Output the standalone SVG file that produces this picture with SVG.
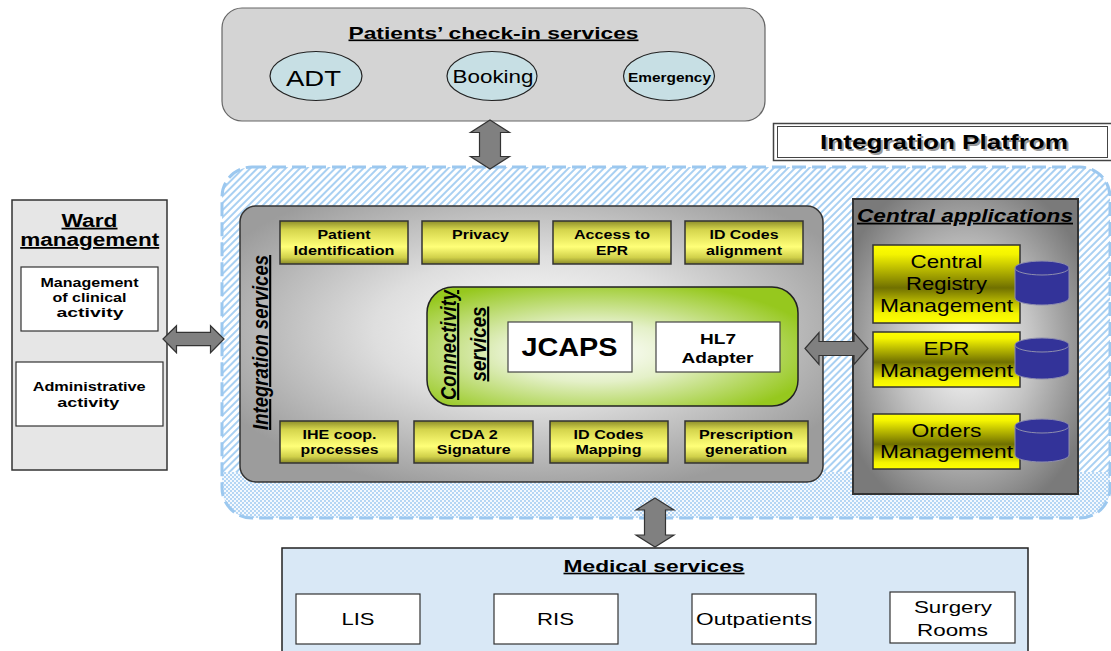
<svg xmlns="http://www.w3.org/2000/svg" width="1111" height="651" viewBox="0 0 1111 651">
<style>
text{font-family:"Liberation Sans",Arial,Helvetica,sans-serif;fill:#000;text-anchor:middle}
.b{font-weight:bold}
.i{font-style:italic}
.u{text-decoration:underline}
.arrow{fill:#808080;stroke:#333;stroke-width:1.2}
.ybox{fill:url(#gy);stroke:#333;stroke-width:1.5}
.cbox{fill:url(#gy2);stroke:#333;stroke-width:1.5}
.wbox{fill:#fff;stroke:#333;stroke-width:1.2}
.ell{fill:#c7dfe4;stroke:#222;stroke-width:1.2}
.cyl{fill:#333399;stroke:#8e8eae;stroke-width:1}
.yt{font-size:13.5px;font-weight:bold}
.ct{font-size:19px}
.mt{font-size:17px}
</style>
<defs>
<pattern id="hatch" patternUnits="userSpaceOnUse" width="5" height="5" patternTransform="rotate(45)">
<rect width="5" height="5" fill="#fff"/><rect width="2" height="5" fill="#a9d0f2"/>
</pattern>
<pattern id="dots" patternUnits="userSpaceOnUse" width="4" height="4">
<rect width="4" height="4" fill="#f4f9fe"/><rect width="2" height="2" fill="#b5d6f4"/><rect x="2" y="2" width="2" height="2" fill="#b5d6f4"/>
</pattern>
<clipPath id="platClip"><rect x="222" y="167" width="888" height="351" rx="30"/></clipPath>
<radialGradient id="gInt" cx="0.5" cy="0.45" r="0.6">
<stop offset="0" stop-color="#ffffff"/><stop offset="0.45" stop-color="#dedede"/><stop offset="1" stop-color="#9c9c9c"/>
</radialGradient>
<radialGradient id="gGreen" cx="0.45" cy="0.55" r="0.62">
<stop offset="0" stop-color="#ffffff"/><stop offset="0.4" stop-color="#e4f0c8"/><stop offset="1" stop-color="#96c81e"/>
</radialGradient>
<radialGradient id="gCen" cx="0.5" cy="0.5" r="0.6">
<stop offset="0" stop-color="#ffffff"/><stop offset="0.5" stop-color="#c4c4c4"/><stop offset="1" stop-color="#7a7a7a"/>
</radialGradient>
<linearGradient id="gy" x1="0" y1="0" x2="0" y2="1">
<stop offset="0" stop-color="#8f8f2a"/><stop offset="0.2" stop-color="#d4d44c"/><stop offset="0.6" stop-color="#ffff78"/><stop offset="0.85" stop-color="#d0d04a"/><stop offset="1" stop-color="#8a8a28"/>
</linearGradient>
<linearGradient id="gy2" x1="0" y1="0" x2="0" y2="1">
<stop offset="0" stop-color="#ffff00"/><stop offset="0.12" stop-color="#f4f400"/><stop offset="0.55" stop-color="#707000"/><stop offset="0.88" stop-color="#f4f400"/><stop offset="1" stop-color="#ffff00"/>
</linearGradient>
</defs>

<!-- Integration platform background -->
<g id="platform">
<rect x="222" y="167" width="888" height="351" rx="30" fill="url(#hatch)"/>
<rect x="200" y="472" width="920" height="60" fill="url(#dots)" clip-path="url(#platClip)"/>
<rect x="222" y="167" width="888" height="351" rx="30" fill="none" stroke="#9cc8ef" stroke-width="3" stroke-dasharray="14 6"/>
</g>

<g id="platform-label">
<rect x="773.5" y="123.5" width="345" height="37" fill="#fff" stroke="#444" stroke-width="1.5"/>
<rect x="777.5" y="126.5" width="330" height="31" fill="none" stroke="#444" stroke-width="1"/>
<text x="946" y="151" class="b" font-size="21" textLength="248" lengthAdjust="spacingAndGlyphs" style="fill:#9a9a9a">Integration Platfrom</text>
<text x="944" y="149" class="b" font-size="21" textLength="248" lengthAdjust="spacingAndGlyphs">Integration Platfrom</text>
</g>

<g id="checkin">
<rect x="222" y="8" width="543" height="113" rx="20" fill="#d4d4d4" stroke="#666" stroke-width="1.2"/>
<text x="493.5" y="38.5" class="b u" font-size="16.5" textLength="290" lengthAdjust="spacingAndGlyphs">Patients’ check-in services</text>
<g id="adt"><ellipse cx="316" cy="76" rx="46" ry="24.5" class="ell"/>
<text x="313.5" y="86" font-size="22.5" textLength="55" lengthAdjust="spacingAndGlyphs">ADT</text></g>
<g id="booking"><ellipse cx="492" cy="76" rx="45" ry="24.5" class="ell"/>
<text x="493" y="83.3" font-size="17.5" textLength="81" lengthAdjust="spacingAndGlyphs">Booking</text></g>
<g id="emergency"><ellipse cx="669" cy="76" rx="45.5" ry="24.5" class="ell"/>
<text x="669.5" y="81.5" class="b" font-size="12.6" textLength="83" lengthAdjust="spacingAndGlyphs">Emergency</text></g>
</g>

<g id="ward">
<rect x="12" y="200" width="155" height="270" fill="#e6e6e6" stroke="#333" stroke-width="1.5"/>
<text x="89.5" y="226.7" class="b u" font-size="18" textLength="56" lengthAdjust="spacingAndGlyphs">Ward</text>
<text x="89.7" y="246" class="b u" font-size="18" textLength="139" lengthAdjust="spacingAndGlyphs">management</text>
<g id="clinical">
<rect x="21" y="267" width="137" height="64" class="wbox"/>
<text x="89.5" y="286.7" class="b" font-size="13" textLength="98" lengthAdjust="spacingAndGlyphs">Management</text>
<text x="89.5" y="301.7" class="b" font-size="13" textLength="74" lengthAdjust="spacingAndGlyphs">of clinical</text>
<text x="90" y="316.5" class="b" font-size="13" textLength="67" lengthAdjust="spacingAndGlyphs">activity</text>
</g>
<g id="administrative">
<rect x="16" y="362" width="147" height="64" class="wbox"/>
<text x="89.2" y="391" class="b" font-size="13" textLength="113" lengthAdjust="spacingAndGlyphs">Administrative</text>
<text x="88.3" y="406.5" class="b" font-size="13" textLength="62" lengthAdjust="spacingAndGlyphs">activity</text>
</g>
</g>

<g id="integration">
<rect x="240" y="206" width="583" height="276" rx="16" fill="url(#gInt)" stroke="#333" stroke-width="1.5"/>
<text transform="translate(268,342.5) scale(1.25,1) rotate(-90)" class="b i u" font-size="17" textLength="175" lengthAdjust="spacingAndGlyphs">Integration services</text>
<g id="patient-id"><rect x="280" y="221" width="128" height="43" class="ybox"/>
<text x="344" y="239" class="yt" textLength="53" lengthAdjust="spacingAndGlyphs">Patient</text>
<text x="344" y="254.5" class="yt" textLength="101" lengthAdjust="spacingAndGlyphs">Identification</text></g>
<g id="privacy"><rect x="422" y="221" width="117" height="43" class="ybox"/>
<text x="480.5" y="239" class="yt" textLength="57" lengthAdjust="spacingAndGlyphs">Privacy</text></g>
<g id="access-epr"><rect x="553" y="221" width="118" height="43" class="ybox"/>
<text x="612" y="239" class="yt" textLength="76" lengthAdjust="spacingAndGlyphs">Access to</text>
<text x="612" y="254.5" class="yt" textLength="32" lengthAdjust="spacingAndGlyphs">EPR</text></g>
<g id="id-align"><rect x="685" y="221" width="118" height="43" class="ybox"/>
<text x="744" y="239" class="yt" textLength="69" lengthAdjust="spacingAndGlyphs">ID Codes</text>
<text x="744" y="254.5" class="yt" textLength="76" lengthAdjust="spacingAndGlyphs">alignment</text></g>
<g id="ihe"><rect x="280" y="421" width="118" height="42" class="ybox"/>
<text x="339.5" y="439.3" class="yt" textLength="74" lengthAdjust="spacingAndGlyphs">IHE coop.</text>
<text x="339.5" y="454.3" class="yt" textLength="78" lengthAdjust="spacingAndGlyphs">processes</text></g>
<g id="cda"><rect x="414" y="421" width="119" height="42" class="ybox"/>
<text x="473.8" y="439.3" class="yt" textLength="48" lengthAdjust="spacingAndGlyphs">CDA 2</text>
<text x="473.8" y="454.3" class="yt" textLength="74" lengthAdjust="spacingAndGlyphs">Signature</text></g>
<g id="id-map"><rect x="550" y="421" width="118" height="42" class="ybox"/>
<text x="608.5" y="439.3" class="yt" textLength="70" lengthAdjust="spacingAndGlyphs">ID Codes</text>
<text x="608.5" y="454.3" class="yt" textLength="66" lengthAdjust="spacingAndGlyphs">Mapping</text></g>
<g id="prescription"><rect x="685" y="421" width="123" height="42" class="ybox"/>
<text x="746" y="439.3" class="yt" textLength="94" lengthAdjust="spacingAndGlyphs">Prescription</text>
<text x="746" y="454.3" class="yt" textLength="82" lengthAdjust="spacingAndGlyphs">generation</text></g>
</g>

<g id="connectivity">
<rect x="427" y="287" width="371" height="119" rx="26" fill="url(#gGreen)" stroke="#222" stroke-width="1.5"/>
<text transform="translate(456,345) scale(1.25,1) rotate(-90)" class="b i u" font-size="17" textLength="110" lengthAdjust="spacingAndGlyphs">Connectivity</text>
<text transform="translate(486,344) scale(1.25,1) rotate(-90)" class="b i u" font-size="17" textLength="75" lengthAdjust="spacingAndGlyphs">services</text>
<g id="jcaps"><rect x="508" y="322" width="124" height="50" fill="#fff" stroke="#444" stroke-width="1.2"/>
<text x="569.5" y="356" class="b" font-size="25" textLength="96" lengthAdjust="spacingAndGlyphs">JCAPS</text></g>
<g id="hl7"><rect x="656" y="322" width="124" height="50" fill="#fff" stroke="#444" stroke-width="1.2"/>
<text x="718" y="343.5" class="b" font-size="15.5" textLength="36" lengthAdjust="spacingAndGlyphs">HL7</text>
<text x="717.5" y="363" class="b" font-size="15.5" textLength="72" lengthAdjust="spacingAndGlyphs">Adapter</text></g>
</g>

<g id="central">
<rect x="853" y="199" width="225" height="295" fill="url(#gCen)" stroke="#333" stroke-width="2"/>
<text x="965" y="221.7" class="b i u" font-size="18" textLength="216" lengthAdjust="spacingAndGlyphs">Central applications</text>
<g id="central-registry"><rect x="873" y="245" width="147" height="78" class="cbox"/>
<text x="946.5" y="268" class="ct" textLength="72" lengthAdjust="spacingAndGlyphs">Central</text>
<text x="946.5" y="290" class="ct" textLength="81" lengthAdjust="spacingAndGlyphs">Registry</text>
<text x="946.5" y="312" class="ct" textLength="133" lengthAdjust="spacingAndGlyphs">Management</text>
<path d="M1015,268 L1015,298 A27,7 0 0 0 1069,298 L1069,268 Z" class="cyl"/>
<ellipse cx="1042" cy="268" rx="27" ry="7" class="cyl"/></g>
<g id="epr"><rect x="873" y="332" width="147" height="55" class="cbox"/>
<text x="946.5" y="355" class="ct" textLength="46" lengthAdjust="spacingAndGlyphs">EPR</text>
<text x="946.5" y="377" class="ct" textLength="133" lengthAdjust="spacingAndGlyphs">Management</text>
<path d="M1015,345 L1015,372 A27,7 0 0 0 1069,372 L1069,345 Z" class="cyl"/>
<ellipse cx="1042" cy="345" rx="27" ry="7" class="cyl"/></g>
<g id="orders"><rect x="873" y="414" width="147" height="55" class="cbox"/>
<text x="946.5" y="437" class="ct" textLength="70" lengthAdjust="spacingAndGlyphs">Orders</text>
<text x="946.5" y="458" class="ct" textLength="133" lengthAdjust="spacingAndGlyphs">Management</text>
<path d="M1015,426 L1015,455 A27,7 0 0 0 1069,455 L1069,426 Z" class="cyl"/>
<ellipse cx="1042" cy="426" rx="27" ry="7" class="cyl"/></g>
</g>

<g id="medical">
<rect x="282" y="548" width="746" height="110" fill="#d9e8f6" stroke="#222" stroke-width="1.5"/>
<text x="654" y="571.7" class="b u" font-size="16.5" textLength="181" lengthAdjust="spacingAndGlyphs">Medical services</text>
<g id="lis"><rect x="296" y="594" width="124" height="50" class="wbox"/>
<text x="358" y="625" class="mt" textLength="33" lengthAdjust="spacingAndGlyphs">LIS</text></g>
<g id="ris"><rect x="494" y="594" width="124" height="50" class="wbox"/>
<text x="555.5" y="625" class="mt" textLength="37" lengthAdjust="spacingAndGlyphs">RIS</text></g>
<g id="outpatients"><rect x="692" y="594" width="124" height="50" class="wbox"/>
<text x="754" y="625" class="mt" textLength="116" lengthAdjust="spacingAndGlyphs">Outpatients</text></g>
<g id="surgery"><rect x="890" y="592" width="125" height="51" class="wbox"/>
<text x="953" y="613" class="mt" textLength="78" lengthAdjust="spacingAndGlyphs">Surgery</text>
<text x="952.5" y="635.7" class="mt" textLength="71" lengthAdjust="spacingAndGlyphs">Rooms</text></g>
</g>

<g id="connectors">
<path class="arrow" d="M490,120 L509.5,132.5 L500.5,132.5 L500.5,156.5 L509.5,156.5 L490,169 L470.5,156.5 L479.5,156.5 L479.5,132.5 L470.5,132.5 Z"/>
<path class="arrow" d="M163,339 L176.5,325.7 L176.5,332.3 L210.5,332.3 L210.5,325.7 L224,339 L210.5,352.7 L210.5,345.7 L176.5,345.7 L176.5,352.7 Z"/>
<path class="arrow" d="M805,348.5 L819,332.5 L819,341.5 L854,341.5 L854,332.5 L868,348.5 L854,364.5 L854,355.5 L819,355.5 L819,364.5 Z"/>
<path class="arrow" d="M655,498 L674,510 L665.5,510 L665.5,535 L674,535 L655,547 L636,535 L644.5,535 L644.5,510 L636,510 Z"/>
</g>
</svg>
